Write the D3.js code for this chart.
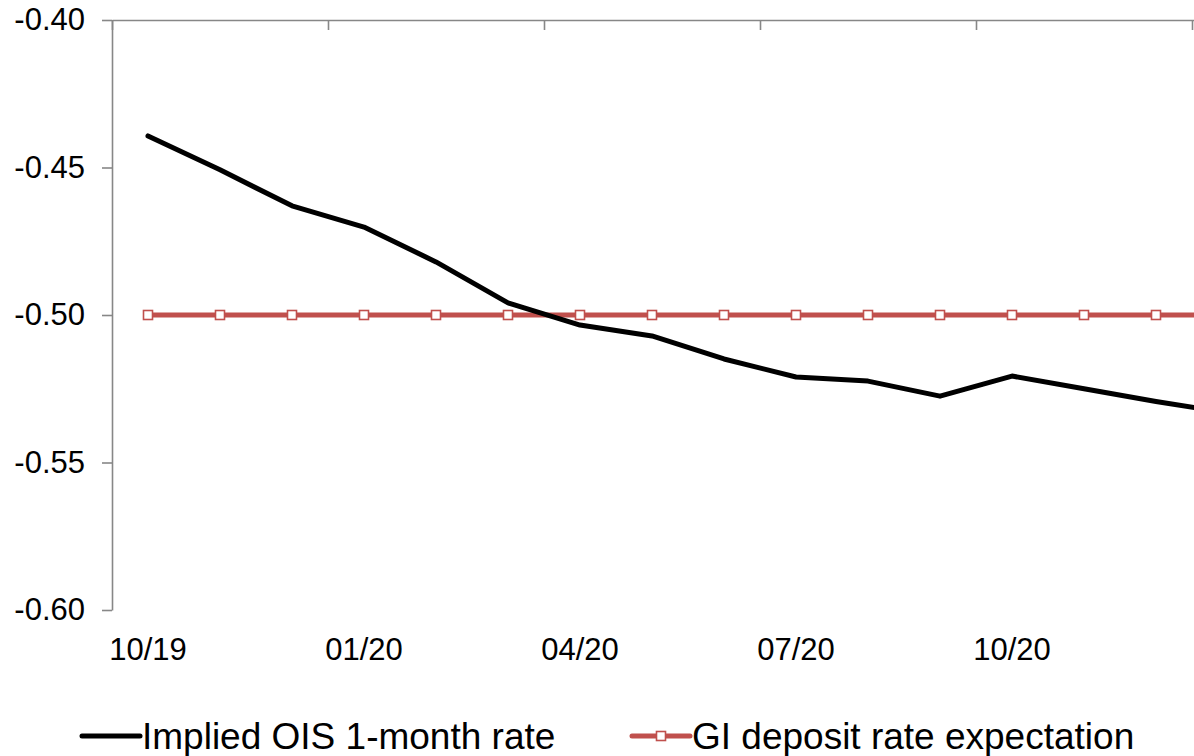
<!DOCTYPE html>
<html>
<head>
<meta charset="utf-8">
<script src="https://cdn.jsdelivr.net/npm/d3@7"></script>
<style>
  html, body { margin: 0; padding: 0; background: #fff; overflow: hidden; }
  svg { display: block; font-family: "Liberation Sans", Arial, sans-serif; }
</style>
</head>
<body>
<svg id="chart" width="1194" height="756"></svg>
<script>
// ---- data ----
const categories = ["10/19","11/19","12/19","01/20","02/20","03/20","04/20","05/20","06/20","07/20","08/20","09/20","10/20","11/20","12/20","01/21"];
const oisRate = [-0.4393,-0.4508,-0.4630,-0.4702,-0.4820,-0.4959,-0.5034,-0.5071,-0.5149,-0.5210,-0.5224,-0.5275,-0.5207,-0.5250,-0.5293,-0.5332];
const giExpectation = [-0.50,-0.50,-0.50,-0.50,-0.50,-0.50,-0.50,-0.50,-0.50,-0.50,-0.50,-0.50,-0.50,-0.50,-0.50,-0.50];
const yTicks = [-0.60,-0.55,-0.50,-0.45,-0.40];
const xTickLabels = ["10/19","01/20","04/20","07/20","10/20"];
const seriesNames = ["Implied OIS 1-month rate","GI deposit rate expectation"];

(function () {
// ---- layout ----
const svg = d3.select("#chart");
const mLeft = 112, mTop = 20, mBottom = 610, band = 72;
const N = categories.length;
const grey = "#878787";
const red = "#C0504D";

const xIdx = d3.scaleLinear().domain([0, N]).range([mLeft, mLeft + band * N]);
const xPos = i => xIdx(i + 0.5);
const y = d3.scaleLinear().domain([-0.60, -0.40]).range([mBottom, mTop]);

// y axis
const yAxis = svg.append("g")
  .attr("transform", `translate(${mLeft},0)`)
  .call(d3.axisLeft(y).tickValues(yTicks).tickSize(10).tickSizeOuter(0).tickFormat(d => d.toFixed(2)));
yAxis.select(".domain").attr("stroke", grey).attr("stroke-width", 1.6);
yAxis.selectAll(".tick line").attr("stroke", grey).attr("stroke-width", 1.6);
yAxis.selectAll(".tick text").attr("fill", "#000").attr("font-size", 31).attr("x", -27)
  .attr("font-family", "Liberation Sans, Arial, sans-serif");

// category axis at top (ticks pointing down), labels at bottom
const boundaryIdx = d3.range(0, N + 1, 3);
const xAxis = svg.append("g")
  .attr("transform", `translate(0,${mTop})`)
  .call(d3.axisBottom(xIdx).tickValues(boundaryIdx).tickSize(10).tickSizeOuter(0).tickFormat(""));
xAxis.select(".domain").attr("stroke", grey).attr("stroke-width", 1.6);
xAxis.selectAll(".tick line").attr("stroke", grey).attr("stroke-width", 1.6);

svg.append("g").selectAll("text")
  .data(xTickLabels)
  .join("text")
  .attr("x", d => xPos(categories.indexOf(d)))
  .attr("y", 660)
  .attr("text-anchor", "middle")
  .attr("font-size", 31)
  .attr("fill", "#000")
  .text(d => d);

// lines
const line = d3.line().x((d, i) => xPos(i)).y(d => y(d));

svg.append("path")
  .datum(giExpectation)
  .attr("fill", "none")
  .attr("stroke", red)
  .attr("stroke-width", 5)
  .attr("d", line);

svg.append("g").selectAll("rect")
  .data(giExpectation)
  .join("rect")
  .attr("x", (d, i) => xPos(i) - 4.5)
  .attr("y", d => y(d) - 4.5)
  .attr("width", 9)
  .attr("height", 9)
  .attr("fill", "#fff")
  .attr("stroke", red)
  .attr("stroke-width", 1.6);

svg.append("path")
  .datum(oisRate)
  .attr("fill", "none")
  .attr("stroke", "#000")
  .attr("stroke-width", 5)
  .attr("stroke-linejoin", "round")
  .attr("stroke-linecap", "round")
  .attr("d", line);

// legend
const lg = svg.append("g");
const ly = 736;
lg.append("line").attr("x1", 82).attr("x2", 140).attr("y1", ly).attr("y2", ly)
  .attr("stroke", "#000").attr("stroke-width", 5).attr("stroke-linecap", "round");
lg.append("text").attr("x", 142).attr("y", ly + 13).attr("font-size", 37).attr("fill", "#000").text(seriesNames[0]);
lg.append("line").attr("x1", 632).attr("x2", 690).attr("y1", ly).attr("y2", ly)
  .attr("stroke", red).attr("stroke-width", 5).attr("stroke-linecap", "round");
lg.append("rect").attr("x", 661 - 4.5).attr("y", ly - 4.5).attr("width", 9).attr("height", 9)
  .attr("fill", "#fff").attr("stroke", red).attr("stroke-width", 1.6);
lg.append("text").attr("x", 692).attr("y", ly + 13).attr("font-size", 37).attr("fill", "#000").text(seriesNames[1]);
})();
</script>
</body>
</html>
